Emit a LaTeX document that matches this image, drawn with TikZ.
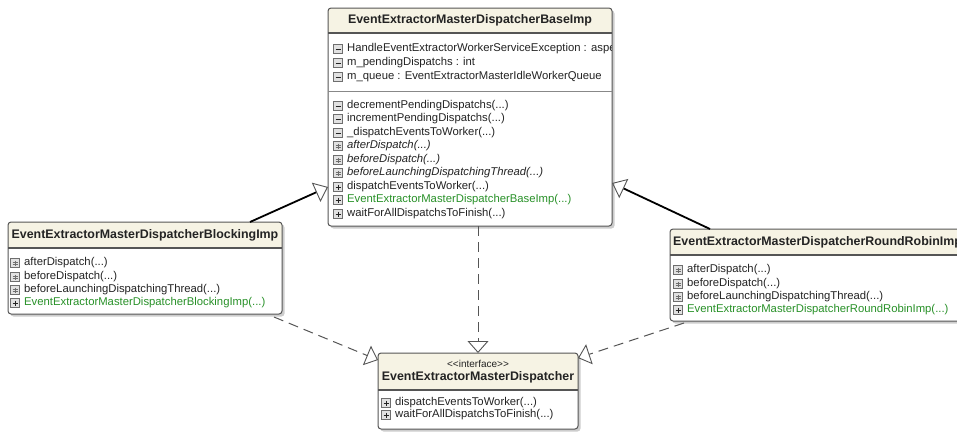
\documentclass[tikz,border=0pt]{standalone}
\usepackage{fontspec}
\setmainfont{Liberation Sans}
\usetikzlibrary{arrows.meta}

\definecolor{umlframe}{RGB}{85,85,85}
\definecolor{umlhead}{RGB}{246,243,228}
\definecolor{umlshadow}{RGB}{205,205,205}
\definecolor{umltext}{RGB}{35,35,35}
\definecolor{umlgreen}{RGB}{40,145,40}
\definecolor{iconframe}{RGB}{110,110,110}
\definecolor{iconfill}{RGB}{225,225,225}

\tikzset{
  classbody/.style={fill=white, rounded corners=3pt, inner sep=0pt, outer sep=0pt, anchor=north west},
  boxframe/.style={draw=umlframe, line width=1pt, rounded corners=3pt},
  classname/.style={font=\fontsize{12.4}{14}\selectfont\bfseries, text=umltext, inner sep=0pt},
  stereo/.style={font=\fontsize{10}{12}\selectfont, text=umltext, inner sep=0pt},
  member/.style={anchor=west, inner sep=0pt, font=\fontsize{11.3}{13}\selectfont, text=umltext, text height=8pt, text depth=2.5pt},
  ctor/.style={member, text=umlgreen},
  abstr/.style={member, font=\fontsize{11.3}{13}\selectfont\itshape},
  extends/.style={draw=black, line width=1.8pt, -{Triangle[open, length=13pt, width=21pt, line width=0.9pt, color=umlframe]}},
  realizes/.style={draw=umlframe, line width=1pt, dash pattern=on 10pt off 6pt, -{Triangle[open, length=12pt, width=21pt, line width=0.9pt]}},
  icopriv/.pic={
    \draw[draw=iconframe, fill=iconfill, line width=0.6pt] (-4.5,-4.5) rectangle (4.5,4.5);
    \draw[umltext, line width=0.8pt] (-2.5,0) -- (2.5,0);
  },
  icoprot/.pic={
    \draw[draw=iconframe, fill=iconfill, line width=0.6pt] (-4.5,-4.5) rectangle (4.5,4.5);
    \draw[iconframe, line width=0.4pt] (-2.5,-1.3) -- (2.5,-1.3) (-2.5,1.3) -- (2.5,1.3) (0,-2.5) -- (0,2.5);
  },
  icopub/.pic={
    \draw[draw=iconframe, fill=iconfill, line width=0.6pt] (-4.5,-4.5) rectangle (4.5,4.5);
    \draw[umltext, line width=0.8pt] (-2.5,0) -- (2.5,0) (0,-2.5) -- (0,2.5);
  },
}

% name, left, top, right, bottom, bottom of header
\newcommand\umlbox[6]{%
  \fill[umlshadow, rounded corners=3pt] (#2+2.5,#3+2.5) rectangle (#4+2.5,#5+2.5);
  \node[classbody, minimum width={#4-#2}, minimum height={#5-#3}] (#1) at (#2,#3) {};
  \begin{scope}
    \clip (#2,#3) rectangle (#4,#6);
    \fill[umlhead, rounded corners=3pt] (#2,#3) rectangle (#4,#5);
  \end{scope}
  \draw[umlframe, line width=1.6pt] (#2,#6) -- (#4,#6);
  \draw[boxframe] (#1.north west) rectangle (#1.south east);
}

% name, x, y, icon, style, text
\newcommand\member[6]{%
  \pic at (#2,#3) {#4};
  \node[#5] (#1) at (#2+9,#3) {#6};
}

\begin{document}
\begin{tikzpicture}[x=1pt, y=-1pt]
\useasboundingbox (0,0) rectangle (957,432);
\clip (0,0) rectangle (957,432);

\umlbox{base}{328}{8}{612}{226}{33}
\umlbox{blocking}{8}{222}{282}{314}{248}
\umlbox{roundrobin}{670}{229}{967}{321}{255}
\umlbox{iface}{378}{353}{578}{429}{390}

\draw[umlframe!70, line width=0.8pt] (328,91) -- (612,91);

\node[classname] (base-name) at (470,20) {EventExtractorMasterDispatcherBaseImp};
\node[classname] (blocking-name) at (145,235) {EventExtractorMasterDispatcherBlockingImp};
\node[classname, anchor=west] (roundrobin-name) at (673,242) {EventExtractorMasterDispatcherRoundRobinImp};
\node[stereo] (iface-stereo) at (478,364) {<{}<interface>{}>};
\node[classname] (iface-name) at (478,377) {EventExtractorMasterDispatcher};

% base class
\begin{scope}
\clip (329,34) rectangle (611,225);
\member{b-handle}{338}{49}{icopriv}{member}{HandleEventExtractorWorkerServiceException : aspe}
\end{scope}
\member{b-pending}{338}{63}{icopriv}{member}{m\_pendingDispatchs : int}
\member{b-queue}{338}{77}{icopriv}{member}{m\_queue : EventExtractorMasterIdleWorkerQueue}
\member{b-dec}{338}{106}{icopriv}{member}{decrementPendingDispatchs(...)}
\member{b-inc}{338}{119}{icopriv}{member}{incrementPendingDispatchs(...)}
\member{b-disp}{338}{133}{icopriv}{member}{\_dispatchEventsToWorker(...)}
\member{b-after}{338}{146}{icoprot}{abstr}{afterDispatch(...)}
\member{b-before}{338}{160}{icoprot}{abstr}{beforeDispatch(...)}
\member{b-launch}{338}{173}{icoprot}{abstr}{beforeLaunchingDispatchingThread(...)}
\member{b-dispatch}{338}{187}{icopub}{member}{dispatchEventsToWorker(...)}
\member{b-ctor}{338}{200}{icopub}{ctor}{EventExtractorMasterDispatcherBaseImp(...)}
\member{b-wait}{338}{214}{icopub}{member}{waitForAllDispatchsToFinish(...)}

% blocking
\member{k-after}{15}{263}{icoprot}{member}{afterDispatch(...)}
\member{k-before}{15}{277}{icoprot}{member}{beforeDispatch(...)}
\member{k-launch}{15}{290}{icoprot}{member}{beforeLaunchingDispatchingThread(...)}
\member{k-ctor}{15}{303}{icopub}{ctor}{EventExtractorMasterDispatcherBlockingImp(...)}

% round robin
\member{r-after}{678}{270}{icoprot}{member}{afterDispatch(...)}
\member{r-before}{678}{284}{icoprot}{member}{beforeDispatch(...)}
\member{r-launch}{678}{297}{icoprot}{member}{beforeLaunchingDispatchingThread(...)}
\member{r-ctor}{678}{310}{icopub}{ctor}{EventExtractorMasterDispatcherRoundRobinImp(...)}

% interface
\member{i-dispatch}{386}{403}{icopub}{member}{dispatchEventsToWorker(...)}
\member{i-wait}{386}{415}{icopub}{member}{waitForAllDispatchsToFinish(...)}

\draw[extends] ([xshift=105pt]blocking.north) -- ([yshift=-70pt]base.west);
\draw[extends] ([xshift=40pt]roundrobin.north west) -- ([yshift=-66pt]base.east);
\draw[realizes] (iface.north |- base.south) -- (iface.north);
\draw[realizes] ([xshift=-8pt,yshift=-3pt]blocking.south east) -- ([yshift=-7pt]iface.north west);
\draw[realizes] ([xshift=14pt,yshift=-2pt]roundrobin.south west) -- ([yshift=-5pt]iface.north east);
\end{tikzpicture}
\end{document}
